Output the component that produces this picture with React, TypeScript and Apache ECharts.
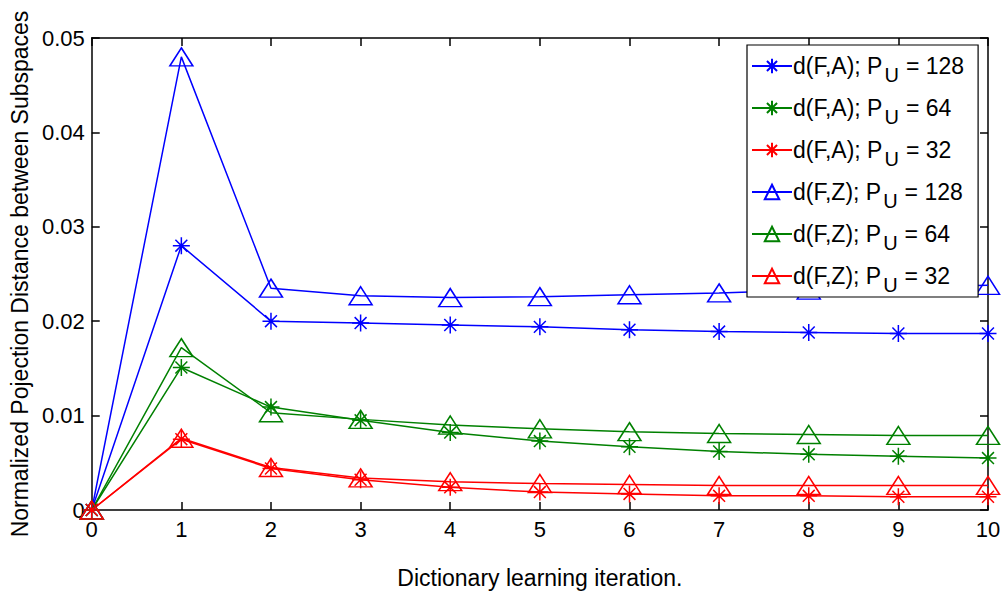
import React, { useEffect, useRef } from "react";
import * as echarts from "echarts";

const iterations = [0, 1, 2, 3, 4, 5, 6, 7, 8, 9, 10];

const dFA128 = [0, 0.028, 0.02, 0.0198, 0.0196, 0.0194, 0.0191, 0.0189, 0.0188, 0.0187, 0.0187];
const dFA64 = [0, 0.0151, 0.0109, 0.0095, 0.0082, 0.0073, 0.0067, 0.0062, 0.0059, 0.0057, 0.0055];
const dFA32 = [0, 0.0075, 0.0044, 0.0032, 0.0024, 0.0019, 0.0017, 0.0015, 0.0015, 0.0014, 0.0014];
const dFZ128 = [0, 0.048, 0.0235, 0.0227, 0.0225, 0.0226, 0.0228, 0.023, 0.0233, 0.0236, 0.0238];
const dFZ64 = [0, 0.0172, 0.0103, 0.0096, 0.009, 0.0086, 0.0083, 0.0081, 0.008, 0.0079, 0.0079];
const dFZ32 = [0, 0.0076, 0.0045, 0.0034, 0.003, 0.0028, 0.0027, 0.0026, 0.0026, 0.0026, 0.0026];

const yTicks = [0, 0.01, 0.02, 0.03, 0.04, 0.05];

const BLUE = "#0000ff";
const GREEN = "#008000";
const RED = "#ff0000";

const STAR = "path://M0,-10L0,10M-10,0L10,0M-7,-7L7,7M-7,7L7,-7";

type Def = { key: string; pair: string; pu: string; values: number[]; color: string; marker: "star" | "tri" };

const seriesDefs: Def[] = [
  { key: "a128", pair: "d(F,A)", pu: "128", values: dFA128, color: BLUE, marker: "star" },
  { key: "a64", pair: "d(F,A)", pu: "64", values: dFA64, color: GREEN, marker: "star" },
  { key: "a32", pair: "d(F,A)", pu: "32", values: dFA32, color: RED, marker: "star" },
  { key: "z128", pair: "d(F,Z)", pu: "128", values: dFZ128, color: BLUE, marker: "tri" },
  { key: "z64", pair: "d(F,Z)", pu: "64", values: dFZ64, color: GREEN, marker: "tri" },
  { key: "z32", pair: "d(F,Z)", pu: "32", values: dFZ32, color: RED, marker: "tri" },
];

const FONT = "Liberation Sans, Arial, sans-serif";

// MATLAB-style box: ticks point into the plot on all four sides
function tickStyle() {
  return { show: true, inside: true, length: 8, lineStyle: { color: "#000", width: 1.5 } };
}
function lineStyleAxis() {
  return { show: true, onZero: false, lineStyle: { color: "#000", width: 1.5 } };
}

export default function App() {
  const ref = useRef<HTMLDivElement>(null);

  useEffect(() => {
    if (!ref.current) return;
    const chart = echarts.init(ref.current, undefined, { renderer: "svg" });
    const byKey: Record<string, Def> = {};
    seriesDefs.forEach((d) => (byKey[d.key] = d));

    const series = seriesDefs.map((d) => ({
      name: d.key,
      type: "line",
      data: d.values.map((v, i) => [iterations[i], v]),
      symbol: d.marker === "star" ? STAR : "triangle",
      symbolSize: d.marker === "star" ? 17 : [23, 18],
      showAllSymbol: true,
      lineStyle: { color: d.color, width: 1.5 },
      itemStyle: {
        color: d.marker === "star" ? d.color : "transparent",
        borderColor: d.color,
        borderWidth: 1.5,
      },
      emphasis: { disabled: true },
      z: 2,
    }));

    chart.setOption({
      animation: false,
      backgroundColor: "#fff",
      grid: { left: 91, right: 17, top: 38, bottom: 85 },
      legend: {
        orient: "vertical",
        left: 747,
        top: 45,
        width: 237,
        padding: [2, 14, 2, 4],
        itemGap: 4,
        itemWidth: 40,
        itemHeight: 18,
        backgroundColor: "#fff",
        borderColor: "#000",
        borderWidth: 1.2,
        z: 10,
        data: seriesDefs.map((d) => ({ name: d.key })),
        formatter: (name: string) => {
          const d = byKey[name];
          return `{t|${d.pair}; P}{s|U}{t|= ${d.pu}}`;
        },
        textStyle: {
          padding: [0, 0, 0, -4],
          rich: {
            t: { fontFamily: FONT, fontSize: 23, color: "#000", lineHeight: 30, verticalAlign: "middle" },
            s: { fontFamily: FONT, fontSize: 20, color: "#000", lineHeight: 12, padding: [18, 7, 0, 2], verticalAlign: "middle" },
          },
        },
      },
      xAxis: [
        {
          type: "value",
          min: 0,
          max: 10,
          interval: 1,
          name: "Dictionary learning iteration.",
          nameLocation: "middle",
          nameGap: 56,
          nameTextStyle: { fontFamily: FONT, fontSize: 23, color: "#000" },
          axisLine: lineStyleAxis(),
          axisTick: tickStyle(),
          axisLabel: { fontFamily: FONT, fontSize: 22, color: "#000", margin: 8 },
          splitLine: { show: false },
        },
        {
          type: "value",
          position: "top",
          min: 0,
          max: 10,
          interval: 1,
          axisLine: lineStyleAxis(),
          axisTick: tickStyle(),
          axisLabel: { show: false },
          splitLine: { show: false },
        },
      ],
      yAxis: [
        {
          type: "value",
          min: 0,
          max: 0.05,
          interval: 0.01,
          name: "Normalized Pojection Distance between Subspaces",
          nameLocation: "middle",
          nameGap: 58,
          nameTextStyle: { fontFamily: FONT, fontSize: 23, color: "#000" },
          axisLine: lineStyleAxis(),
          axisTick: tickStyle(),
          axisLabel: {
            fontFamily: FONT,
            fontSize: 22,
            color: "#000",
            margin: 7,
            formatter: (v: number) => {
              const hit = yTicks.find((t) => Math.abs(t - v) < 1e-9);
              return hit === undefined ? "" : String(hit);
            },
          },
          splitLine: { show: false },
        },
        {
          type: "value",
          position: "right",
          min: 0,
          max: 0.05,
          interval: 0.01,
          axisLine: lineStyleAxis(),
          axisTick: tickStyle(),
          axisLabel: { show: false },
          splitLine: { show: false },
        },
      ],
      series,
    });
    return () => chart.dispose();
  }, []);

  return <div ref={ref} style={{ width: 1005, height: 595, position: "absolute", left: 0, top: 0 }} />;
}
